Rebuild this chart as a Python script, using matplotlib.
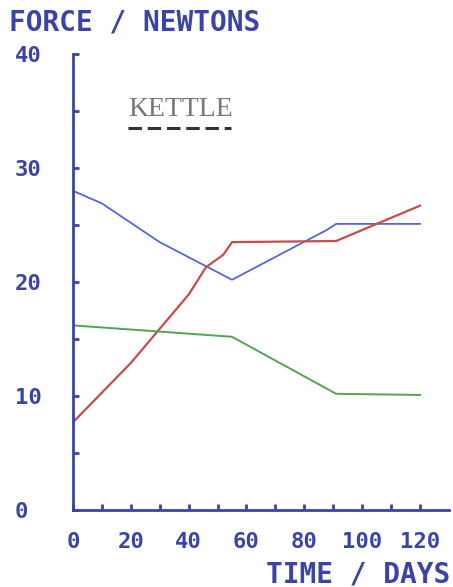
import matplotlib
matplotlib.use("Agg")
import matplotlib.pyplot as plt

# values
blue_x = [0, 10, 30, 55, 88, 91, 120]
blue_y = [28.0, 26.9, 23.5, 20.2, 24.6, 25.1, 25.1]

red_x = [0, 20, 40, 46, 52, 55, 91, 120]
red_y = [7.7, 12.9, 18.9, 21.3, 22.4, 23.5, 23.6, 26.7]

green_x = [0, 55, 91, 120]
green_y = [16.2, 15.2, 10.2, 10.1]

x_ticks = [0, 20, 40, 60, 80, 100, 120]
x_labels = ['0', '20', '40', '60', '80', '100', '120']
y_ticks = [0, 10, 20, 30, 40]
y_labels = ['0', '10', '20', '30', '40']

INK = '#3a44a8'
MONO = 'DejaVu Sans Mono'

fig = plt.figure(figsize=(4.53, 5.87), dpi=100)
ax = fig.add_axes([0.161, 0.131, 0.830, 0.777])

ax.plot(blue_x, blue_y, color='#5566d8', lw=1.3)
ax.plot(red_x, red_y, color='#c84c4c', lw=1.6)
ax.plot(green_x, green_y, color='#4fa552', lw=1.4)

ax.set_xlim(0, 130)
ax.set_ylim(0, 40)

for s in ['top', 'right']:
    ax.spines[s].set_visible(False)
for s in ['left', 'bottom']:
    ax.spines[s].set_color(INK)
    ax.spines[s].set_linewidth(2)

ax.set_xticks(range(0, 121, 10), minor=True)
ax.set_xticks(x_ticks)
ax.set_xticklabels(x_labels)
ax.set_yticks(range(0, 41, 5), minor=True)
ax.set_yticks(y_ticks)
ax.set_yticklabels(y_labels)

ax.tick_params(which='both', direction='in', length=4, width=2, color=INK)
ax.tick_params(axis='x', labelsize=16, labelcolor=INK, pad=16)
ax.tick_params(axis='y', labelsize=16, labelcolor=INK, pad=42)
for lbl in ax.get_xticklabels() + ax.get_yticklabels():
    lbl.set_family(MONO)
    lbl.set_weight('bold')
for lbl in ax.get_yticklabels():
    lbl.set_ha('left')

fig.text(0.020, 0.962, 'FORCE / NEWTONS', family=MONO, weight='bold',
         fontsize=20, color=INK, va='center', ha='left')
fig.text(0.993, 0.022, 'TIME / DAYS', family=MONO, weight='bold',
         fontsize=20, color=INK, va='center', ha='right')

# legend: label with dashed sample underneath
ax.text(0.146, 0.878, 'KETTLE', transform=ax.transAxes, family='Liberation Serif',
        fontsize=20, color='#777777', va='center', ha='left')
ax.plot([0.146, 0.42], [0.838, 0.838], transform=ax.transAxes, color='#333333',
        lw=2.2, ls=(0, (4.4, 1.9)), dash_capstyle='butt')

fig.savefig('out.png', dpi=100, facecolor='white')
